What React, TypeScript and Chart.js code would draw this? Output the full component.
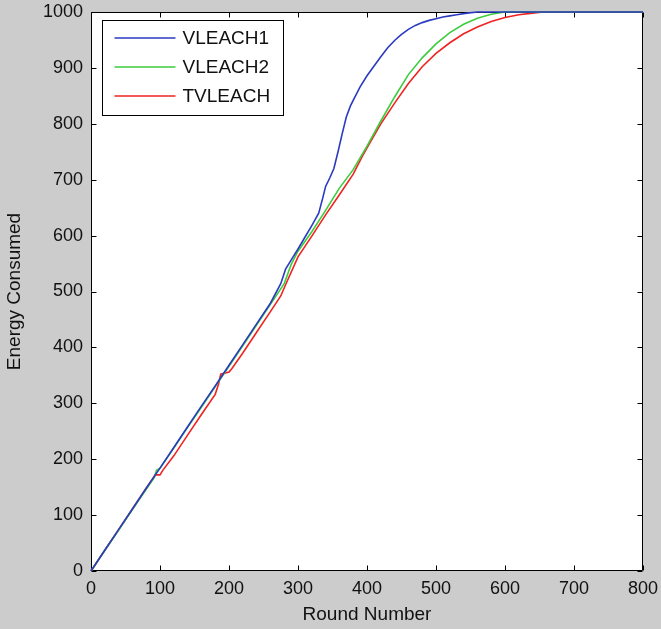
import React, { useEffect, useRef } from "react";
import { Chart, registerables } from "chart.js";

Chart.register(...registerables);

const seriesLabels = ["VLEACH1", "VLEACH2", "TVLEACH"];
const seriesColors = ["#2a3ac2", "#3dcc3d", "#f02222"];

const xTickValues = [0, 100, 200, 300, 400, 500, 600, 700, 800];
const yTickValues = [0, 100, 200, 300, 400, 500, 600, 700, 800, 900, 1000];

const vleach1Rounds = [0, 20, 40, 60, 80, 100, 120, 140, 160, 180, 200, 220, 240, 260, 275, 282, 290, 300, 310, 320, 330, 336, 340, 346, 352, 358, 364, 370, 376, 382, 390, 400, 410, 420, 430, 440, 450, 460, 470, 480, 490, 500, 510, 520, 530, 545, 560, 800];
const vleach1Energy = [0, 37, 74, 111, 148, 184, 221, 258, 295, 331, 368, 405, 442, 479, 514, 540, 556, 576, 597, 618, 640, 668, 688, 703, 720, 750, 782, 812, 832, 847, 866, 886, 903, 920, 936, 949, 960, 969, 976, 981, 985, 988, 991, 993, 995, 998, 1000, 1000];

const vleach2Rounds = [0, 20, 40, 60, 80, 92, 95, 100, 120, 140, 160, 180, 200, 220, 240, 260, 280, 290, 300, 320, 340, 360, 380, 400, 420, 440, 460, 480, 500, 520, 540, 560, 580, 600, 800];
const vleach2Energy = [0, 37, 73, 110, 146, 168, 180, 184, 220, 257, 293, 330, 366, 403, 440, 477, 514, 548, 572, 607, 645, 685, 718, 760, 805, 848, 888, 918, 943, 963, 978, 989, 996, 1000, 1000];

const tvleachRounds = [0, 20, 40, 60, 80, 90, 93, 100, 104, 120, 140, 160, 180, 185, 188, 200, 204, 220, 240, 260, 275, 282, 300, 320, 340, 360, 380, 395, 400, 420, 440, 460, 480, 500, 520, 540, 560, 580, 600, 620, 640, 655, 800];
const tvleachEnergy = [0, 37, 74, 111, 148, 166, 172, 172, 180, 206, 243, 280, 316, 335, 352, 356, 362, 390, 427, 464, 492, 512, 562, 599, 637, 673, 710, 746, 757, 800, 837, 872, 902, 926, 945, 961, 973, 983, 990, 995, 998, 1000, 1000];

const FONT = '"Liberation Sans", Arial, sans-serif';

const toPoints = (xs: number[], ys: number[]) => xs.map((x, i) => ({ x, y: ys[i] }));

const matlabPlugin = {
  id: "matlabPlugin",
  beforeDraw(chart: any) {
    const { ctx, chartArea: a, width, height } = chart;
    ctx.save();
    ctx.fillStyle = "#cccccc";
    ctx.fillRect(0, 0, width, height);
    ctx.fillStyle = "#ffffff";
    ctx.fillRect(a.left, a.top, a.right - a.left, a.bottom - a.top);
    ctx.restore();
  },
  beforeDatasetsDraw(chart: any) {
    const { ctx, chartArea: a, scales } = chart;
    ctx.save();
    ctx.strokeStyle = "#000000";
    ctx.lineWidth = 1;
    ctx.beginPath();
    const L = Math.round(a.left) + 0.5;
    const R = Math.round(a.right) - 0.5;
    const T = Math.round(a.top) + 0.5;
    const B = Math.round(a.bottom) - 0.5;
    ctx.rect(L, T, R - L, B - T);
    const tl = 5;
    xTickValues.forEach((v) => {
      const px = Math.round(scales.x.getPixelForValue(v)) + 0.5;
      ctx.moveTo(px, B);
      ctx.lineTo(px, B - tl);
      ctx.moveTo(px, T);
      ctx.lineTo(px, T + tl);
    });
    yTickValues.forEach((v) => {
      const py = Math.round(scales.y.getPixelForValue(v)) + 0.5;
      ctx.moveTo(L, py);
      ctx.lineTo(L + tl, py);
      ctx.moveTo(R, py);
      ctx.lineTo(R - tl, py);
    });
    ctx.stroke();
    ctx.restore();
  },
  afterDraw(chart: any) {
    const { ctx, chartArea: a } = chart;
    const bx = Math.round(a.left) + 11.5;
    const by = Math.round(a.top) + 8.5;
    const bw = 181;
    const bh = 95;
    ctx.save();
    ctx.fillStyle = "#ffffff";
    ctx.fillRect(bx, by, bw, bh);
    ctx.strokeStyle = "#000000";
    ctx.lineWidth = 1;
    ctx.strokeRect(bx, by, bw, bh);
    ctx.font = `19px ${FONT}`;
    ctx.textBaseline = "middle";
    ctx.textAlign = "left";
    chart.data.datasets.forEach((ds: any, i: number) => {
      const y = by + 17.5 + i * 29;
      ctx.strokeStyle = ds.borderColor;
      ctx.lineWidth = 1.5;
      ctx.beginPath();
      ctx.moveTo(bx + 12, y);
      ctx.lineTo(bx + 73, y);
      ctx.stroke();
      ctx.fillStyle = "#111111";
      ctx.fillText(ds.label, bx + 80, y + 1);
    });
    ctx.restore();
  },
};

export default function App() {
  const canvasRef = useRef<HTMLCanvasElement | null>(null);

  useEffect(() => {
    if (!canvasRef.current) return;
    const seriesData = [
      toPoints(vleach1Rounds, vleach1Energy),
      toPoints(vleach2Rounds, vleach2Energy),
      toPoints(tvleachRounds, tvleachEnergy),
    ];
    const chart = new Chart(canvasRef.current, {
      type: "line",
      data: {
        datasets: seriesData.map((d, i) => ({
          label: seriesLabels[i],
          data: d,
          borderColor: seriesColors[i],
          backgroundColor: seriesColors[i],
          borderWidth: 1.6,
          pointRadius: 0,
          tension: 0,
          fill: false,
          clip: 4,
        })),
      },
      options: {
        responsive: false,
        animation: false,
        events: [],
        layout: { padding: { top: 12, right: 18, left: 0, bottom: 0 } },
        plugins: {
          legend: { display: false },
          tooltip: { enabled: false },
        },
        scales: {
          x: {
            type: "linear",
            min: 0,
            max: 800,
            afterBuildTicks: (scale: any) => {
              scale.ticks = xTickValues.map((v) => ({ value: v }));
            },
            afterFit: (scale: any) => {
              scale.height = 58;
              scale.paddingLeft = 0;
              scale.paddingRight = 0;
            },
            grid: { display: false, drawTicks: false },
            border: { display: false },
            ticks: {
              padding: 7,
              maxRotation: 0,
              autoSkip: false,
              color: "#111111",
              font: { family: FONT, size: 18 },
              callback: (v: any) => String(v),
            },
            title: {
              display: true,
              text: "Round Number",
              color: "#111111",
              font: { family: FONT, size: 19 },
              padding: { top: 0, bottom: 3 },
            },
          },
          y: {
            type: "linear",
            min: 0,
            max: 1000,
            afterBuildTicks: (scale: any) => {
              scale.ticks = yTickValues.map((v) => ({ value: v }));
            },
            afterFit: (scale: any) => {
              scale.width = 91;
              scale.paddingTop = 0;
              scale.paddingBottom = 0;
            },
            grid: { display: false, drawTicks: false },
            border: { display: false },
            ticks: {
              padding: 8,
              autoSkip: false,
              color: "#111111",
              font: { family: FONT, size: 18 },
              callback: (v: any) => String(v),
            },
            title: {
              display: true,
              text: "Energy Consumed",
              color: "#111111",
              font: { family: FONT, size: 19 },
              padding: { top: 3, bottom: 0 },
            },
          },
        },
      },
      plugins: [matlabPlugin],
    });
    return () => chart.destroy();
  }, []);

  return (
    <div
      style={{
        position: "fixed",
        left: 0,
        top: 0,
        width: 661,
        height: 629,
        background: "#cccccc",
      }}
    >
      <canvas ref={canvasRef} width={661} height={629} style={{ display: "block", width: 661, height: 629 }} />
    </div>
  );
}
